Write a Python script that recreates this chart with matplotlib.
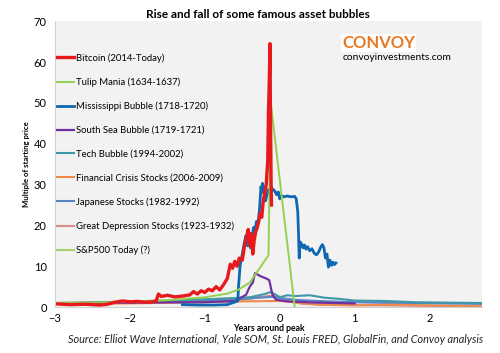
import matplotlib.pyplot as plt

plt.rcParams['font.family'] = ['Lato', 'DejaVu Sans']

# years around peak / multiple of starting price
btc_x = [-3.0, -2.8, -2.6, -2.4, -2.3, -2.2, -2.1, -2.0, -1.9, -1.8, -1.7, -1.65, -1.62, -1.58,
         -1.5, -1.4, -1.3, -1.2, -1.15, -1.1, -1.05, -1.0, -0.95, -0.9, -0.85, -0.8, -0.75, -0.7,
         -0.66, -0.63, -0.6, -0.57, -0.54, -0.5, -0.47, -0.44, -0.42, -0.4, -0.38, -0.36, -0.34,
         -0.32, -0.3, -0.28, -0.26, -0.24, -0.22, -0.2, -0.18, -0.16, -0.15, -0.14, -0.13,
         -0.125, -0.12, -0.115, -0.11]
btc_y = [0.8, 0.6, 0.7, 0.5, 0.7, 1.2, 1.5, 1.3, 1.4, 1.2, 1.3, 1.5, 3.2, 2.6,
         2.9, 2.5, 2.7, 3.0, 3.8, 3.2, 4.0, 3.6, 4.4, 4.0, 5.0, 4.2, 5.5, 7.0,
         10.5, 9.5, 11.2, 10.0, 12.0, 11.5, 15.0, 17.5, 19.0, 15.0, 18.0, 13.0, 16.5,
         18.5, 19.5, 21.0, 23.0, 22.0, 26.0, 28.0, 30.0, 36.0, 48.0, 55.0, 64.5,
         50.0, 40.0, 30.0, 25.0]

tulip_x = [-3.0, -2.5, -2.0, -1.5, -1.0, -0.7, -0.55, -0.4, -0.15, -0.12, 0.2]
tulip_y = [1.0, 1.1, 1.3, 1.7, 2.4, 3.3, 4.3, 6.0, 12.7, 50.0, 0.0]

miss_x = [-1.3, -1.1, -0.9, -0.7, -0.56, -0.55, -0.53, -0.51, -0.49, -0.47, -0.45, -0.43, -0.41,
          -0.39, -0.37, -0.35, -0.33, -0.31, -0.29, -0.27, -0.25, -0.24, -0.23, -0.21, -0.19,
          -0.17, -0.15, -0.12, -0.1, -0.07, -0.04, -0.02, 0.0, 0.02, 0.06, 0.1, 0.15, 0.2,
          0.22, 0.24, 0.25, 0.26, 0.27, 0.29, 0.31, 0.33, 0.35, 0.37, 0.4, 0.43, 0.46, 0.49,
          0.52, 0.55, 0.57, 0.59, 0.61, 0.63, 0.65, 0.67, 0.69, 0.71, 0.73, 0.75]
miss_y = [0.6, 0.5, 0.5, 0.6, 1.5, 5.0, 10.0, 12.0, 14.0, 16.0, 17.5, 15.0, 16.0,
          14.5, 17.0, 19.5, 19.0, 21.0, 20.5, 24.0, 29.5, 28.0, 30.3, 29.0, 26.0,
          27.5, 28.8, 28.0, 29.0, 28.5, 27.5, 28.2, 26.5, 27.3, 27.0, 27.2, 27.0, 27.1,
          26.5, 23.5, 18.5, 12.0, 16.0, 15.5, 14.5, 15.2, 14.2, 14.8, 13.8, 14.3, 13.2, 12.8,
          13.5, 14.8, 15.3, 14.5, 12.0, 13.0, 9.8, 11.5, 10.2, 11.0, 10.4, 10.8]

south_x = [-3.0, -1.0, -0.6, -0.5, -0.45, -0.4, -0.36, -0.33, -0.3, -0.26, -0.22, -0.18,
           -0.14, -0.1, -0.05, 0.1, 0.5, 1.0]
south_y = [1.0, 1.2, 1.5, 2.5, 3.0, 5.0, 6.0, 8.3, 8.0, 7.6, 7.3, 7.0,
           6.6, 3.2, 1.8, 1.4, 1.1, 0.9]

tech_x = [-3.0, -2.0, -1.5, -1.0, -0.6, -0.4, -0.2, -0.12, -0.05, 0.0, 0.1, 0.2, 0.4, 0.6,
          0.8, 1.0, 1.4, 1.8, 2.2, 2.7]
tech_y = [0.9, 1.2, 1.5, 1.9, 2.2, 2.4, 3.2, 3.7, 3.0, 2.4, 2.9, 2.7, 2.9, 2.3,
          2.0, 1.6, 1.5, 1.2, 1.1, 1.0]

fin_x = [-3.0, -2.0, -1.0, -0.5, 0.0, 0.3, 0.5, 1.0, 1.5, 2.0, 2.7]
fin_y = [0.8, 0.9, 1.2, 1.4, 1.5, 1.0, 0.6, 0.4, 0.6, 0.4, 0.2]

jap_x = [-3.0, -2.0, -1.0, -0.5, -0.12, 0.2, 0.5, 1.0, 1.5, 2.0, 2.7]
jap_y = [0.9, 1.2, 1.6, 2.0, 2.5, 1.8, 1.5, 1.2, 1.0, 0.9, 0.8]

dep_x = [-3.0, -2.0, -1.0, -0.5, -0.12, 0.0, 0.1, 0.3, 0.6, 1.0, 1.5, 2.0, 2.7]
dep_y = [0.9, 1.1, 1.4, 1.8, 2.8, 2.3, 1.5, 0.8, 0.6, 0.5, 0.4, 0.3, 0.2]

spx_x = [-3.0, -2.0, -1.0, -0.5, 0.0]
spx_y = [1.0, 1.4, 1.9, 2.3, 2.6]

series = [
    ('Bitcoin (2014-Today)', btc_x, btc_y, '#e8191c', 2.4),
    ('Tulip Mania (1634-1637)', tulip_x, tulip_y, '#92d050', 1.4),
    ('Mississippi Bubble (1718-1720)', miss_x, miss_y, '#0f67b1', 2.0),
    ('South Sea Bubble (1719-1721)', south_x, south_y, '#7030a0', 1.6),
    ('Tech Bubble (1994-2002)', tech_x, tech_y, '#3e97aa', 1.5),
    ('Financial Crisis Stocks (2006-2009)', fin_x, fin_y, '#f08a4b', 1.5),
    ('Japanese Stocks (1982-1992)', jap_x, jap_y, '#5b86c4', 1.5),
    ('Great Depression Stocks (1923-1932)', dep_x, dep_y, '#d98a8a', 1.5),
    ('S&P500 Today (?)', spx_x, spx_y, '#a9cf6e', 1.5),
]

fig = plt.figure(figsize=(5.0, 3.53), dpi=100)
ax = fig.add_axes([0.11, 0.13, 0.854, 0.81])
ax.set_facecolor('#f2f2f2')

# draw the small ones first so bitcoin / mississippi sit on top
for label, xs, ys, color, lw in reversed(series):
    ax.plot(xs, ys, color=color, lw=lw, label=label)

ax.set_xlim(-3, 2.7)
ax.set_ylim(0, 70)
ax.set_xticks([-3, -2, -1, 0, 1, 2])
ax.set_yticks(range(0, 71, 10))
ax.tick_params(axis='y', length=0, labelsize=8, pad=6)
ax.tick_params(axis='x', length=0, labelsize=8, pad=4)
for s in ['top', 'right']:
    ax.spines[s].set_visible(False)
for s in ['left', 'bottom']:
    ax.spines[s].set_color('#d0d0d0')
    ax.spines[s].set_linewidth(0.8)

handles, labels = ax.get_legend_handles_labels()
ax.legend(handles[::-1], labels[::-1], loc='upper left', bbox_to_anchor=(0.0, 0.895),
          frameon=False, fontsize=6.8, handlelength=1.8, handletextpad=0.2,
          labelspacing=1.56, borderpad=0, borderaxespad=0.2)

ax.set_xlabel('Years around peak', fontsize=6.2, fontweight='bold', labelpad=0)
ax.set_ylabel('Multiple of starting price', fontsize=5.6, fontweight='bold', labelpad=3)
fig.text(0.516, 0.958, 'Rise and fall of some famous asset bubbles', ha='center', va='center',
         fontsize=8.5, fontweight='bold')

fig.text(0.684, 0.878, 'CONVOY', color='#e87722', fontsize=12, fontweight='bold', va='center',
         bbox=dict(facecolor='white', edgecolor='none', pad=0.5))
fig.text(0.686, 0.838, 'convoyinvestments.com', color='black', fontsize=7.4, va='center')

fig.text(0.552, 0.037, 'Source: Elliot Wave International, Yale SOM, St. Louis FRED, GlobalFin, and Convoy analysis',
         ha='center', va='center', fontsize=7.8, style='italic', color='#222222')

fig.savefig('out.png', dpi=100)
